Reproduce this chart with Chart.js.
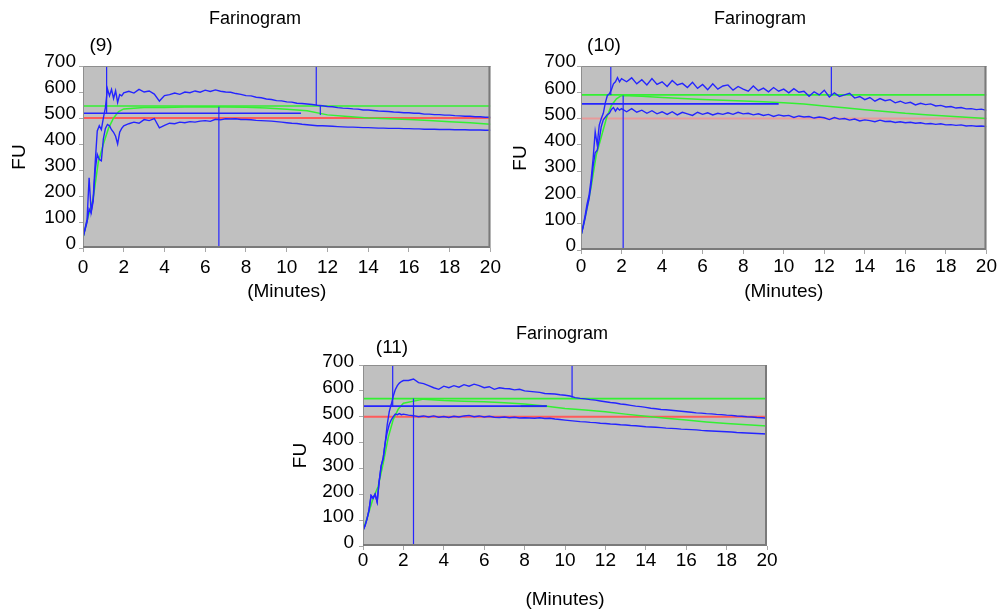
<!DOCTYPE html>
<html>
<head>
<meta charset="utf-8">
<script src="https://cdn.jsdelivr.net/npm/chart.js@4.4.0/dist/chart.umd.min.js"></script>
<style>
  html, body { margin: 0; padding: 0; background: #fff; }
  body { width: 998px; height: 611px; position: relative; overflow: hidden; font-family: "Liberation Sans", Arial, sans-serif; }
  .panel { position: absolute; }
  .lbl { position: absolute; transform: translate(-50%, -50%); white-space: nowrap; line-height: 1; color: #000; }
  .title { font-size: 18px; }
  .tag { font-size: 19px; }
</style>
</head>
<body>
<div class="panel" style="left:0;top:0"><canvas id="c9" width="505" height="310"></canvas></div>
<div class="panel" style="left:500px;top:0"><canvas id="c10" width="498" height="310"></canvas></div>
<div class="panel" style="left:280px;top:320px"><canvas id="c11" width="500" height="291"></canvas></div>

<div class="lbl title" style="left:255px;top:18px">Farinogram</div>
<div class="lbl tag" style="left:101px;top:44px">(9)</div>
<div class="lbl title" style="left:760px;top:18px">Farinogram</div>
<div class="lbl tag" style="left:604px;top:44px">(10)</div>
<div class="lbl title" style="left:562px;top:333px">Farinogram</div>
<div class="lbl tag" style="left:392px;top:346px">(11)</div>

<script>
// time grid (minutes): fine steps while the dough develops, coarser afterwards
const riseMinutes = [0, 0.1, 0.2, 0.3, 0.4, 0.5, 0.6, 0.7, 0.8, 0.9, 1.0,
  1.1, 1.2, 1.3, 1.4, 1.5, 1.6, 1.7, 1.8, 1.9, 2.0];
const plateauMinutes = [
  2.25, 2.5, 2.75, 3, 3.25, 3.5, 3.75, 4,
  4.25, 4.5, 4.75, 5, 5.25, 5.5, 5.75, 6,
  6.25, 6.5, 6.75, 7, 7.25, 7.5, 7.75, 8,
  8.25, 8.5, 8.75, 9, 9.25, 9.5, 9.75, 10,
  10.25, 10.5, 10.75, 11, 11.25, 11.5, 11.75, 12,
  12.25, 12.5, 12.75, 13, 13.25, 13.5, 13.75, 14,
  14.25, 14.5, 14.75, 15, 15.25, 15.5, 15.75, 16,
  16.25, 16.5, 16.75, 17, 17.25, 17.5, 17.75, 18,
  18.25, 18.5, 18.75, 19, 19.25, 19.5, 19.75, 20];
const greenMinutes = [0, 0.25, 0.5, 0.75, 1, 1.25, 1.5, 1.75, 2,
  3, 4, 5, 6, 7, 8, 9, 10, 11, 12, 13, 14, 15, 16, 17, 18, 19, 20];
const xTicks = [0, 2, 4, 6, 8, 10, 12, 14, 16, 18, 20];
const yTicks = [0, 100, 200, 300, 400, 500, 600, 700];

// (9)
const upperRise9 = [40, 75, 110, 270, 140, 190, 330, 450, 470, 455, 500, 540, 612, 585, 610, 575, 605, 560, 590, 585, 597];
const upper9 = [
  603, 596, 610, 600, 604, 592, 565, 586,
  590, 596, 591, 600, 597, 604, 599, 607,
  602, 608, 603, 600, 599, 594, 591, 586,
  585, 580, 578, 573, 571, 567, 566, 562,
  561, 557, 556, 554, 552, 549, 547, 544,
  543, 540, 538, 537, 535, 534, 531, 531,
  529, 527, 526, 525, 523, 522, 520, 520,
  518, 518, 515, 515, 513, 513, 511, 511,
  509, 508, 507, 507, 505, 505, 503, 503];
const lowerRise9 = [40, 70, 100, 150, 135, 180, 300, 360, 340, 335, 420, 460, 475, 470, 455, 445, 430, 400, 445, 460, 470];
const lower9 = [
  478, 484, 480, 494, 490, 498, 462, 472,
  480, 478, 484, 482, 486, 484, 488, 490,
  487, 495, 493, 497, 496, 497, 494, 494,
  493, 491, 490, 489, 488, 486, 484, 482,
  480, 479, 476, 474, 472, 470, 470, 469,
  468, 467, 466, 465, 465, 464, 463, 463,
  462, 461, 461, 460, 460, 460, 459, 459,
  458, 458, 457, 457, 457, 456, 456, 456,
  455, 455, 455, 454, 454, 454, 453, 453];
const middle9 = [40, 120, 190, 330, 400, 460, 500, 525, 535,
  540, 540, 542, 543, 542, 541, 538, 534, 528, 512, 506, 500, 497, 494, 490, 486, 482, 476];
const levels9 = [546, 500, 518];      // green, red, blue
const levelEnds9 = [20, 20, 10.7];
const markAt9 = [1.16, 11.45, 11.65, 6.67];
const markTop9 = [700, 700, 550, 543];
const markBottom9 = [518, 550, 512, 0];

// (10)
const upperRise10 = [55, 90, 130, 175, 210, 270, 350, 450, 400, 475, 500, 520, 560, 588, 594, 610, 632, 640, 656, 640, 652];
const upper10 = [
  640, 655, 632, 648, 628, 652, 630, 640,
  622, 645, 628, 634, 618, 638, 615, 630,
  610, 632, 612, 624, 628, 608, 622, 612,
  604, 624, 606, 616, 602, 618, 604, 612,
  598, 614, 600, 604, 585, 602, 590, 608,
  582, 598, 584, 590, 596, 578, 584, 572,
  580, 566, 576, 568, 572, 560, 566, 558,
  562, 552, 558, 553, 556, 548, 550, 544,
  546, 540, 542, 537, 538, 534, 536, 531];
const lowerRise10 = [55, 85, 120, 160, 195, 250, 320, 370, 380, 420, 470, 495, 505, 515, 520, 535, 542, 528, 540, 532, 538];
const lower10 = [
  526, 538, 524, 532, 520, 530, 518, 526,
  516, 526, 514, 524, 518, 512, 524, 516,
  522, 514, 520, 516, 522, 516, 524, 518,
  520, 514, 518, 512, 516, 508, 514, 510,
  512, 504, 510, 506, 508, 502, 506, 503,
  496, 504, 498, 500, 494, 498, 491, 495,
  492, 488, 494, 489, 490, 485, 488, 484,
  486, 482, 484, 480, 481, 478, 480, 476,
  477, 474, 476, 472, 473, 471, 472, 470];
const middle10 = [55, 140, 240, 360, 430, 500, 550, 575, 588,
  585, 580, 576, 573, 570, 567, 564, 560, 555, 548, 541, 534, 527, 520, 515, 510, 505, 500];
const levels10 = [590, 500, 556];
const levelEnds10 = [20, 20, 9.75];
const markAt10 = [1.47, 2.08, 12.35];
const markTop10 = [700, 588, 700];
const markBottom10 = [590, 0, 590];

// (11)
const upperRise11 = [60, 78, 105, 140, 195, 185, 200, 170, 250, 310, 340, 400, 470, 520, 548, 580, 605, 620, 630, 636, 640];
const upper11 = [
  640, 646, 632, 628, 620, 612, 606, 618,
  612, 620, 614, 624, 618, 626, 620, 612,
  616, 606, 612, 609, 608, 604, 606, 600,
  598, 596, 594, 590, 589, 588, 585, 583,
  580, 574, 571, 569, 566, 564, 561, 558,
  555, 553, 549, 547, 544, 541, 539, 536,
  533, 531, 528, 527, 525, 523, 521, 519,
  517, 515, 514, 512, 511, 509, 508, 506,
  505, 503, 502, 500, 499, 497, 496, 494];
const lowerRise11 = [60, 78, 105, 140, 195, 185, 200, 170, 250, 310, 340, 400, 440, 470, 488, 500, 510, 508, 512, 508, 510];
const lower11 = [
  506, 504, 500, 503, 499, 503, 498, 501,
  497, 502, 499, 503, 505, 500, 503, 499,
  502, 498, 497, 499, 496, 498, 495, 496,
  495, 494, 496, 493, 494, 491, 489, 487,
  485, 483, 481, 480, 478, 477, 475, 474,
  472, 471, 469, 468, 466, 465, 463, 461,
  460, 459, 458, 456, 455, 454, 452, 451,
  450, 449, 447, 446, 445, 444, 443, 442,
  441, 439, 438, 437, 436, 435, 434, 433];
const middle11 = [60, 120, 185, 230, 320, 420, 490, 530, 552,
  568, 563, 560, 558, 554, 549, 541, 532, 526, 519, 510, 502, 494, 487, 480, 474, 469, 464];
const levels11 = [570, 500, 541];
const levelEnds11 = [20, 20, 9.1];
const markAt11 = [1.47, 2.5, 10.35];
const markTop11 = [700, 570, 700];
const markBottom11 = [541, 0, 574];
const overlap11 = [7.8, 9.1];   // where the blue level runs under the green curve

const BLUE = '#2424ff';
const GREEN = '#33f033';
const FONT = { family: '"Liberation Sans", Arial, sans-serif', size: 19 };

function line(points, color, width) {
  return { data: points, borderColor: color, borderWidth: width, pointRadius: 0, tension: 0, fill: false };
}

function curve(rise, plateau, color) {
  const ys = rise.concat(plateau);
  const pts = riseMinutes.concat(plateauMinutes).map((x, i) => ({ x, y: ys[i] }));
  return line(pts, color, 1.4);
}

function buildSets(p) {
  const sets = [];
  sets.push(curve(p.upperRise, p.upper, BLUE));
  sets.push(curve(p.lowerRise, p.lower, BLUE));
  p.markAt.forEach((x, i) => {
    sets.push(line([{ x, y: p.markTop[i] }, { x, y: p.markBottom[i] }], BLUE, 1.2));
  });
  sets.push(line([{ x: 0, y: p.levels[2] }, { x: p.levelEnds[2], y: p.levels[2] }], BLUE, 1.6));
  if (p.overlap) {
    sets.push(line([{ x: p.overlap[0], y: p.levels[2] }, { x: p.overlap[1], y: p.levels[2] }], '#2a8c78', 2));
  }
  sets.push(line(greenMinutes.map((x, i) => ({ x, y: p.middle[i] })), GREEN, 1.5));
  sets.push(line([{ x: 0, y: p.levels[1] }, { x: p.levelEnds[1], y: p.levels[1] }], p.red, 2));
  sets.push(line([{ x: 0, y: p.levels[0] }, { x: p.levelEnds[0], y: p.levels[0] }], GREEN, 1.6));
  return sets;
}

const plotFrame = {
  id: 'plotFrame',
  beforeDatasetsDraw(chart) {
    const { ctx, chartArea: a } = chart;
    ctx.save();
    ctx.fillStyle = '#c0c0c0';
    ctx.fillRect(a.left, a.top, a.width, a.height);
    ctx.restore();
  },
  afterDatasetsDraw(chart) {
    const { ctx, chartArea: a } = chart;
    ctx.save();
    ctx.strokeStyle = '#8e8e8e'; ctx.lineWidth = 1;
    ctx.beginPath();
    ctx.moveTo(a.left + 0.5, a.bottom); ctx.lineTo(a.left + 0.5, a.top + 0.5); ctx.lineTo(a.right, a.top + 0.5);
    ctx.stroke();
    ctx.strokeStyle = '#7a7a7a'; ctx.lineWidth = 2;
    ctx.beginPath();
    ctx.moveTo(a.right - 1, a.top); ctx.lineTo(a.right - 1, a.bottom - 1); ctx.lineTo(a.left, a.bottom - 1);
    ctx.stroke();
    ctx.restore();
  }
};

function makeChart(id, p, g) {
  return new Chart(document.getElementById(id), {
    type: 'line',
    data: { datasets: buildSets(p) },
    options: {
      responsive: false,
      animation: false,
      layout: { padding: { top: g.top, right: g.right, bottom: 0, left: 0 } },
      plugins: { legend: { display: false }, tooltip: { enabled: false }, title: { display: false } },
      scales: {
        x: {
          type: 'linear', min: 0, max: 20,
          afterBuildTicks: (s) => { s.ticks = xTicks.map((v) => ({ value: v })); },
          afterFit: (s) => { s.height = g.xh; },
          ticks: { font: FONT, color: '#000', padding: g.xpad, maxRotation: 0, autoSkip: false },
          grid: { drawOnChartArea: false, drawTicks: true, tickLength: 4, color: '#a8a8a8' },
          border: { display: false },
          title: { display: true, text: '(Minutes)', font: FONT, color: '#000', padding: { top: 0, bottom: g.xtb } }
        },
        y: {
          type: 'linear', min: 0, max: 700,
          afterBuildTicks: (s) => { s.ticks = yTicks.map((v) => ({ value: v })); },
          afterFit: (s) => { s.width = g.yw; },
          ticks: { font: FONT, color: '#000', padding: g.ypad, labelOffset: g.yoff },
          grid: { drawOnChartArea: false, drawTicks: true, tickLength: 4, color: '#a8a8a8' },
          border: { display: false },
          title: { display: true, text: 'FU', font: FONT, color: '#000', padding: { top: g.ytp, bottom: 0 } }
        }
      }
    },
    plugins: [plotFrame]
  });
}

makeChart('c9', {
  upperRise: upperRise9, upper: upper9, lowerRise: lowerRise9, lower: lower9, middle: middle9,
  levels: levels9, levelEnds: levelEnds9, markAt: markAt9, markTop: markTop9, markBottom: markBottom9,
  red: '#ff5a5a'
}, { top: 66, right: 14, xh: 62, yw: 83, xpad: 4, xtb: 7, ypad: 3, yoff: -4, ytp: 8 });

makeChart('c10', {
  upperRise: upperRise10, upper: upper10, lowerRise: lowerRise10, lower: lower10, middle: middle10,
  levels: levels10, levelEnds: levelEnds10, markAt: markAt10, markTop: markTop10, markBottom: markBottom10,
  red: '#e89a9a'
}, { top: 66, right: 10, xh: 60, yw: 81, xpad: 1, xtb: 7, ypad: 1, yoff: -4, ytp: 9 });

makeChart('c11', {
  upperRise: upperRise11, upper: upper11, lowerRise: lowerRise11, lower: lower11, middle: middle11,
  levels: levels11, levelEnds: levelEnds11, markAt: markAt11, markTop: markTop11, markBottom: markBottom11,
  overlap: overlap11, red: '#ff5a5a'
}, { top: 45, right: 13, xh: 65, yw: 83, xpad: -1, xtb: 0, ypad: 5, yoff: -3, ytp: 9 });
</script>
</body>
</html>
